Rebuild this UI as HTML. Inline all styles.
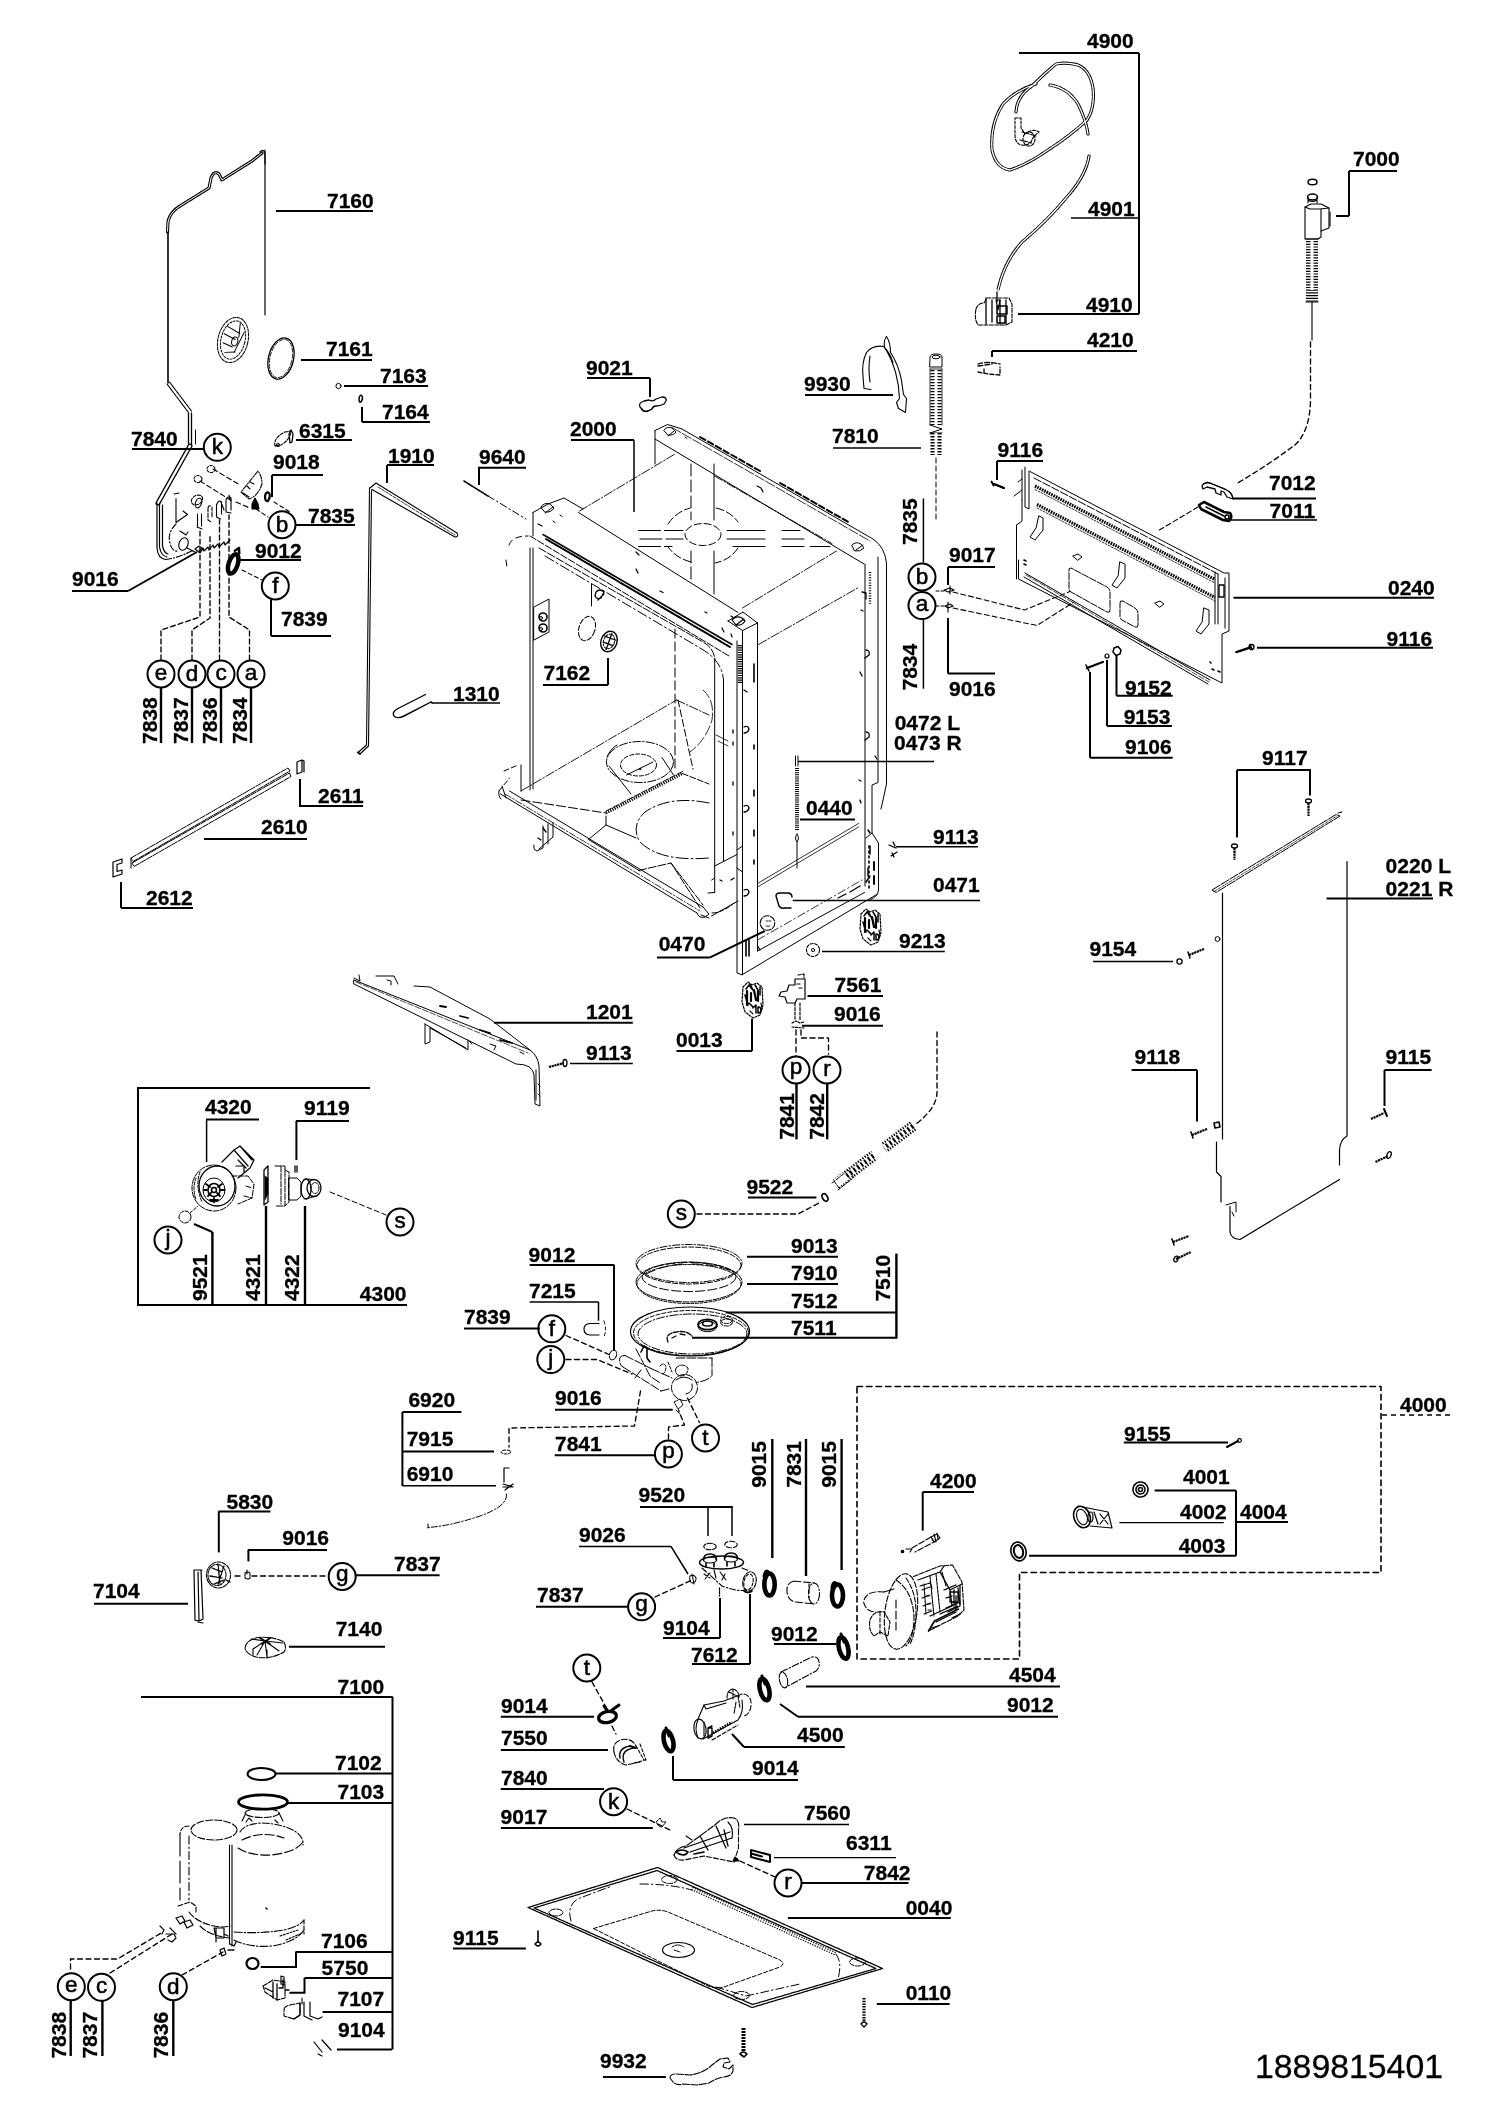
<!DOCTYPE html>
<html><head><meta charset="utf-8"><title>1889815401</title>
<style>
html,body{margin:0;padding:0;background:#fff}
svg{display:block;will-change:transform}
svg text{font-family:"Liberation Sans",sans-serif;font-weight:bold;fill:#000;stroke:#000;stroke-width:0.3px}
svg text.cl{font-weight:normal;stroke-width:0.55px}
svg text.rg{font-weight:normal}
svg line,svg polyline,svg polygon,svg path,svg ellipse,svg circle,svg rect{stroke:#000;fill:none}
</style></head><body>
<svg width="1500" height="2119" viewBox="0 0 1500 2119">
<rect x="0" y="0" width="1500" height="2119" style="fill:#fff;stroke:none"/>
<g id="parts" stroke-linecap="round" stroke-linejoin="round">
<!-- ===== 7160 housing outline (top-left) ===== -->
<g stroke-width="1.2">
<path d="M265 150V315"/>
<path d="M260 152q4-4 5 2l0 10" />
<path d="M262 153L252 161L228 176L222 180L219 174Q214 170 211 178L209 188L180 206Q170 212 168 222L167.500 232" stroke-width="3.2" stroke-dasharray="1.5 1.2"/>
<path d="M262 153L252 161L228 176L222 180L219 174Q214 170 211 178L209 188L180 206Q170 212 168 222L167.500 232" stroke="#fff" style="stroke:#fff" stroke-width="1"/>
<path d="M168 232V383" stroke-width="1.6"/>
<path d="M167 384L188.500 412.500M169.500 382L191.500 411" stroke-width="1.100" stroke-dasharray="3 1"/>
<path d="M188.500 413V444M191.500 413V444" stroke-width="1.300"/>
<path d="M195.500 430V444" stroke-width="1"/>
<path d="M190 446L158 503" stroke-width="5" stroke-dasharray="1.2 1.6"/>
<path d="M190 446L158 503" style="stroke:#fff" stroke-width="2.4"/>
<path d="M157 503V548Q158 559 166 559.500M159.500 503V547Q161 556 167 557M162.500 505V546Q164 553 168 554"/>
<path d="M166 559.500Q178 558 194 550" stroke-dasharray="6 2 1 2"/>
</g>
<!-- fan in 7160 -->
<g stroke-width="1" transform="rotate(14 233 340)">
<ellipse cx="233" cy="340" rx="15" ry="23" stroke-dasharray="3 1.2"/>
<ellipse cx="233" cy="340" rx="12" ry="19.500" stroke-dasharray="2 1.5"/>
<ellipse cx="235" cy="341" rx="3" ry="4.500"/>
<path d="M224 328l14 4M223 336l12 3M224 345l10 2M228 354l10-3M236 322l2 14M242 330l-5 22"/>
</g>
<!-- 7161 o-ring -->
<ellipse cx="281" cy="358.500" rx="12.500" ry="21" transform="rotate(14 281 358.500)" stroke-width="1.300"/>
<ellipse cx="281" cy="358.500" rx="11" ry="19.500" transform="rotate(14 281 358.500)" stroke-width="0.800" stroke-dasharray="4 2"/>
<!-- 7163, 7164 small -->
<circle cx="338.500" cy="386" r="2.600" stroke-width="1"/>
<path d="M359.500 402q-1.500-5 1.500-7q3 2 0 7z" stroke-width="1.500"/>
<!-- 6315 -->
<g stroke-width="1.100">
<path d="M275 446q-2-8 10-14l6-1q-1 9-10 14z" stroke-dasharray="3 1.500"/>
<path d="M289 434l2-4l2 4l-1 8l-2 1z" stroke-width="1.300"/>
<circle cx="278" cy="445" r="1.500"/>
</g>
<!-- ===== 7840 mechanism ===== -->
<g stroke-width="1.100">
<path d="M174 494l5-1M176 498.500V522.500L187.500 514.500L183 511" />
<path d="M176 524Q167 533 170 543Q172 552 178 551" stroke-dasharray="6 2 1.500 2"/>
<ellipse cx="183.500" cy="544" rx="4.500" ry="6.500" transform="rotate(20 183.500 544)"/>
<path d="M180 531l6 4l2-3M187 548l8 4" />
<ellipse cx="197" cy="500" rx="6" ry="4.500" transform="rotate(-30 197 500)" stroke-dasharray="3 1.500"/>
<ellipse cx="198.500" cy="503" rx="3" ry="5" transform="rotate(20 198.500 503)"/>
<ellipse cx="198" cy="479" rx="4" ry="3.500" stroke-dasharray="2.500 1.500"/>
<ellipse cx="211" cy="469" rx="4" ry="3.500" stroke-dasharray="2.500 1.500"/>
<path d="M197.500 514v12M201.500 514v12M197 527l5 2" />
<path d="M208 508q1-4 4-1v10M208 508v12l3 2" stroke-dasharray="4 1.500"/>
<path d="M216.500 505q2-6 5-3v12M216.500 505v12l4 2M221 502l3 8"/>
<path d="M226 500q2-5 5-2v12M226 500v12l5 1M229 495l1 5"/>
<path d="M199 551l4-3l1 3l4-4l1 3l4-5l1 3l4-4l1 3l5-5l1 3l5-5" stroke-width="1.200"/>
<path d="M195 549l5 4l3-4l-4-3z"/>
<path d="M213 469L240 485M200 481L232 501M236 502L250 508" stroke-dasharray="5 3"/>
<path d="M256 509L268 517M274 502L290 512" stroke-dasharray="4 3"/>
<path d="M258 471L241 492L249 499Q258 496 262 484Q262 476 258 471z" stroke-dasharray="5 1.500 1 1.500"/>
<path d="M247 486l3 3M250 482l4 2M243 493l6 4" />
<path d="M252 504l3-6l3 6l1 5h-7z" style="fill:#000"/>
<path d="M265 496q1-5 4-3q2 3-1 8q-3 1-3-5z" stroke-width="2.200"/>
</g>
<!-- 9012 clamp (left) -->
<g transform="rotate(18 233.500 563)"><ellipse cx="233.500" cy="564" rx="4.500" ry="10" stroke-width="4.500"/><path d="M231 551l3-4l2 5" stroke-width="2.500"/></g>
<path d="M242 570L262 580" stroke-width="1.100" stroke-dasharray="4 3"/>
<!-- dashed leaders to e d c a -->
<g stroke-width="1.350" stroke-dasharray="5 3">
<path d="M161 660V630L200 617V530"/>
<path d="M192 660V630L210 618V535"/>
<path d="M219.500 660V520"/>
<path d="M249.500 660V630L229 617V515"/>
</g>
<!-- 1910 rod -->
<g stroke-width="1.100">
<path d="M370 488L376 483L457 533Q459 537 455 537L372 489.500"/>
<path d="M378 487L455 535" stroke-dasharray="3 1.500" stroke-width="0.800"/>
<path d="M369.500 488L366.500 745L358 752.500M371.500 490L368.500 746L360 754" />
<path d="M358 752.500l2 1.500" stroke-width="2"/>
</g>
<!-- 9640 rod -->
<path d="M464 481L488 496" stroke-width="1.600" stroke-dasharray="3 1"/>
<path d="M488 496L526 519" stroke-width="1" stroke-dasharray="7 3 1.500 3"/>
<!-- 1310 -->
<path d="M425.500 694.500L397 709Q391 713 394.500 716.500Q398 719 404 716L431 702" stroke-width="1.400"/>
<path d="M431 702L432 703" stroke-width="1.400"/>
<!-- 2610 rail -->
<g stroke-width="1">
<path d="M131 858L288 768L290 771L133 861.500zM132 863L289.500 773L291 776.500L134 866.500z" stroke-dasharray="6 1.200"/>
<path d="M131 858V868" />
<path d="M297 762l5-2v12l-5 2zM302 760l2 1v11" stroke-width="1.200"/>
<path d="M113 862l9-3v4l-5 1.500v7l5-1.500v4l-9 3z" stroke-width="1.200"/>
</g>
<!-- ===== 9021 bowtie ===== -->
<path d="M640 407q-2-4 4-6l5-1q4 2 7-1l6-2q5 0 4 4l-2 3q-4 2-8 2q-3 0-4 3l-4 2q-5 1-6-2z" stroke-width="1.300"/>
<path d="M641 409q2 4 7 2l4-2" stroke-width="1"/>
<!-- ===== 9930 hook ===== -->
<g stroke-width="1.100">
<path d="M886.500 336.500q-3 4-2 10q-12-2-18 6q-5 10-3.500 24l1 12l7 1"/>
<path d="M886.500 336.500q4 6 4 16q8 12 11 28l2 14l3 4l-1 14l-7-4l-2-6l3-4q-1-28-14-50"/>
<path d="M884 347q6 6 9 16M870 356q-2 12 0 26" />
</g>
<!-- ===== 7810 hose ===== -->
<g stroke-width="1">
<path d="M930 357q0-3 6-3q6 0 6 3v10h-12z"/>
<ellipse cx="936" cy="357" rx="4" ry="1.800"/>
<path d="M930 369h12M930 369v56M942 369v56" stroke-width="0.800"/>
<path d="M936 370V425" stroke-width="11" stroke-dasharray="1.300 1.700" stroke-linecap="butt"/>
<path d="M936 370V425" style="stroke:#fff" stroke-width="3" stroke-linecap="butt"/>
<path d="M930 425l12 4l-12 4M930 433h12"/>
<path d="M936 433V455" stroke-width="11" stroke-dasharray="1.600 1.400" stroke-linecap="butt"/>
<path d="M936 433V455" style="stroke:#fff" stroke-width="3" stroke-linecap="butt"/>
<path d="M936 458V521" stroke-dasharray="5 3"/>
</g>
<!-- ===== 4901 cable ===== -->
<g stroke-width="3.200" stroke-dasharray="3 1.600">
<path id="cab1" d="M1016 112Q1017 96 1032 86Q1044 74 1056 64Q1066 62 1078 65Q1090 70 1093 88Q1095 108 1087 120Q1070 136 1048 150Q1028 164 1010 170Q996 168 992 150Q990 124 1003 104Q1016 90 1036 84"/>
<path id="cab2" d="M1050 85Q1068 88 1078 104Q1086 120 1088 134M1089 156Q1086 176 1066 198Q1048 220 1022 242Q1004 262 998 290"/>
</g>
<g stroke-width="1.300" style="stroke:#fff">
<path d="M1016 112Q1017 96 1032 86Q1044 74 1056 64Q1066 62 1078 65Q1090 70 1093 88Q1095 108 1087 120Q1070 136 1048 150Q1028 164 1010 170Q996 168 992 150Q990 124 1003 104Q1016 90 1036 84" style="stroke:#fff"/>
<path d="M1050 85Q1068 88 1078 104Q1086 120 1088 134M1089 156Q1086 176 1066 198Q1048 220 1022 242Q1004 262 998 290" style="stroke:#fff"/>
</g>
<!-- plug -->
<g stroke-width="1.100" stroke-dasharray="3 1.500">
<path d="M1015 118h6v10l4 6q8-6 14-2q-6 4-8 10q-4 4-10 3q-6-2-6-10z"/>
<ellipse cx="1029" cy="139" rx="6" ry="7"/>
<path d="M1022 132l14 4M1020 140l12 3"/>
</g>
<!-- 4910 connector -->
<g stroke-width="1.100">
<path d="M976 309q2-6 8-6l3-5h22l3 6v18l-6 3h-28q-4-6-2-16z" stroke-dasharray="4 1.500"/>
<path d="M986 298v26M992 300v22M997 292v10M1000 300v24M1006 300v24" stroke-width="1.300"/>
<path d="M997 306h10v8h-10zM997 316h8v7h-8z" stroke-width="1.500"/>
<path d="M996 300l2 10l2-10z" stroke-width="1.200"/>
</g>
<!-- 4210 -->
<g stroke-width="1.300">
<path d="M978 364q8-3 22 0M978 366l14-2" stroke-dasharray="5 2"/>
<path d="M978 372l10 2l12 1v-8M984 373v-6" stroke-dasharray="4 2"/>
</g>
<!-- ===== 7000 aquastop ===== -->
<g stroke-width="1.100">
<ellipse cx="1312.500" cy="182" rx="4.500" ry="2.800" stroke-width="1.500"/>
<ellipse cx="1312.500" cy="197" rx="5" ry="3" stroke-width="1.500"/>
<path d="M1308 197v6M1317 197v6M1308 200q4 3 9 0"/>
<path d="M1305 207l6-3h10l8 4v20l-8 3v6l-3 2h-13z"/>
<path d="M1305 207l5 2h10l9-1M1321 209v22M1330 212v14"/>
<path d="M1306 239h12M1306 302h12"/>
<path d="M1312 241V302" stroke-width="12" stroke-dasharray="1.200 1.500" stroke-linecap="butt"/>
<path d="M1312 241V290" style="stroke:#fff" stroke-width="3" stroke-linecap="butt"/>
<path d="M1312 302V340"/>
<path d="M1310.500 342V400Q1310 430 1296 444Q1270 464 1236 484" stroke-dasharray="5 3.500" stroke-width="1.350"/>
</g>
<!-- ===== 7012 / 7011 clips ===== -->
<g stroke-width="1.300">
<path d="M1202 486q2-4 8-3l14 6q6 2 8 6l1 4l-6-2l-3-5l-3-1v4l-5-2l-1-4l-8-2l-4 2z"/>
<path d="M1203 484l4-2l16 6q8 3 10 10" stroke-width="1"/>
</g>
<g stroke-width="2.600">
<path d="M1199 505l5-3l20 10l6 1q3 4-1 8l-6-1l-22-11z"/>
<path d="M1206 507l18 9" stroke-width="1.500"/>
<circle cx="1227" cy="517" r="2" stroke-width="1.500"/>
</g>
<path d="M1198 507L1157 531.500" stroke-width="1.100" stroke-dasharray="5 3"/>
<!-- ===== 0240 back panel ===== -->
<g stroke-width="1">
<path d="M1030 471.500L1224 573L1229 573V631L1222 634V683L1018.500 579V560"/>
<path d="M1016.500 525V579M1016.500 525L1022 521V500"/>
<path d="M1025 467v40l4 2v-38M1022 470v30" />
<path d="M1018 482l4-3M1014 496l8-6" />
<path d="M1034 478L1218 574" stroke-dasharray="8 2"/>
<path d="M1035 486L1215 579.500" stroke-width="3.200" stroke-dasharray="1.600 1" stroke-linecap="butt"/>
<path d="M1035 489.500L1215 583" stroke-width="0.800" stroke-dasharray="2 1.500"/>
<path d="M1037 504.500L1215 597.500" stroke-width="3.200" stroke-dasharray="1.600 1" stroke-linecap="butt"/>
<path d="M1037 508L1215 601" stroke-width="0.800" stroke-dasharray="2 1.500"/>
<path d="M1215 572v52M1218 574v50M1225 578v50"/>
<path d="M1219 585h5v12h-5z" stroke-width="1.300"/>
<path d="M1025 573L1210 680M1024 577L1208 684" />
<path d="M1026 575L1209 682" stroke-dasharray="6 2" stroke-width="0.700"/>
<path d="M1212 669l2 1M1218 671l2 1M1210 662l1 1" stroke-width="1.600"/>
<!-- cutouts -->
<path d="M1069 571q-1-3 2-3l36 19q3 2 3 5v18q0 3-3 2l-36-20q-2-1-2-4z" stroke-dasharray="7 1.500"/>
<path d="M1120 603q0-3 3-2l12 7q3 2 3 5v12q0 3-3 2l-13-7q-2-1-2-4z" stroke-dasharray="7 1.500"/>
<path d="M1073 556l5-2l4 3l-4 3zM1155 603l5-2l4 3l-4 3z"/>
<!-- hooks -->
<path d="M1039 516l4 2v12l-8 10l-5-3l6-9z"/>
<path d="M1120 562l5 2v14l-8 10l-5-3l6-9z"/>
<path d="M1204 608l5 2v14l-8 10l-5-3l6-9z"/>
<path d="M1024 560l2 1M1024 564l2 1" stroke-width="1.600"/>
</g>
<!-- screws 9116 -->
<g stroke-width="1.300">
<path d="M991.500 481.500l2 4M992.500 483.500L1004 488" stroke-width="1.800"/>
<path d="M994 484L1004 488" stroke-width="2.200" stroke-dasharray="2.200 0.600"/>
<path d="M1250 644.500l2 5M1236 652L1251 647" stroke-width="1.800"/>
<path d="M1237 652L1249 648" stroke-width="2.200" stroke-dasharray="2.200 0.600"/>
<circle cx="1251.500" cy="647" r="2.500"/>
</g>
<!-- 9106 screw, 9153, 9152 -->
<g stroke-width="1.200">
<path d="M1087 668L1103 662" stroke-width="2.200" stroke-dasharray="2.200 0.600"/>
<path d="M1086 665l3 6" stroke-width="1.600"/>
<circle cx="1107" cy="656" r="2"/>
<path d="M1114 648l4-1.500l3 3.500l-1 4l-4 1.500l-3-3.500z" stroke-width="1.500"/>
</g>
<!-- 9017/9016 right small -->
<g stroke-width="1.100">
<path d="M944 590l6-2l4 2l-6 2zM950 586v8M945 606l5-2l3 2l-5 2zM948 602v10" />
<path d="M953 592L1024.500 610L1070 591.500" stroke-dasharray="5 3"/>
<path d="M953 608L1037 625.500L1074 602" stroke-dasharray="5 3"/>
<path d="M936 591h8M936 606h8" stroke-dasharray="3 2"/>
</g>
<!-- ===== TUB 2000 ===== -->
<g stroke-width="1">
<!-- back bar -->
<path d="M655 430.500V464M655 430.500L667.500 424.500L682 429L873 539Q885 547 886.500 563"/>
<path d="M655 439L864 564" />
<path d="M672 427.500L870 541" stroke-dasharray="10 2" stroke-width="0.800"/>
<path d="M700 437L760 471M780 483L850 523" stroke-width="2" stroke-dasharray="6 3"/>
<path d="M664 430q3-4 8-2l4 4q-3 4-8 3zM668 436l6-5M685 437l2 1.500"/>
<path d="M852 545q4-4 9-1l3 4q-4 4-9 3zM856 550l7-5"/>
<!-- dash-dot top edges -->
<g stroke-dasharray="9 2 1.500 2" stroke-width="0.900">
<path d="M579.500 511L675 454"/>
<path d="M714.500 476L832 543.500"/>
<path d="M742.500 608L836.500 551"/>
<path d="M758.500 644.500L858.500 587.500"/>
</g>
<!-- front bar -->
<path d="M578.500 512.500L738 612.500"/>
<path d="M533 512.500V536M533 512.500L548 504L564 498L583 509"/>
<path d="M541 507q3-5 9-3l4 4q-3 5-9 4zM545 513l8-6M560 515l2 1.500M553 521l2 1.500"/>
<path d="M543 534.500L732 644.500" stroke-width="1.500"/>
<path d="M546 539L730 647" stroke-width="2" stroke-dasharray="5 1.500 1.500 1.500"/>
<path d="M530 536L729 656" stroke-dasharray="7 2"/>
<path d="M539 548L703 642Q714 648 715 660" stroke-dasharray="8 2"/>
<path d="M545 556L700 648Q722 660 723.500 680" stroke-dasharray="10 3 2 3"/>
<path d="M538 524l4 2M636 569l2 4M660 591l3 1.500M705 612l2 1" stroke-width="1.300"/>
<!-- front right post top block -->
<path d="M728 621L743 612L757.500 623M728 621L742.500 630.500L757.500 623M742.500 630.500V642"/>
<path d="M732 620q4-5 10-2l3 3q-3 5-9 4zM736 625l8-6M731 616l3 2M722 628l2 4M731 634l1 3" stroke-width="1.200"/>
<!-- front right post -->
<path d="M737 641V973L742.500 975V641M757.500 623V951"/>
<path d="M740 645V683" stroke-width="4.500" stroke-dasharray="1.200 1.100" stroke-linecap="butt"/>
<path d="M754 664v18M754 745v4M754 790v6M754 830v6M754 860v4" stroke-width="1.600"/>
<path d="M744 727q4-2 5 2q-1 4-5 4M744 806q4-2 5 2q-1 4-5 4M744 890q4-2 5 2q-1 4-5 4M744 690l3 2" stroke-width="1.300"/>
<path d="M733 730v3M733 742v3M733 782v3M733 832v3" stroke-width="1.300"/>
<path d="M746 940v16M749 940v16" stroke-width="1.600"/>
<path d="M737 850L742.500 846M737 868L742.500 872" />
<!-- right rear post -->
<path d="M865 564V886M878 557V782.500L872 785V833L878.500 843V890Q878 897 870 899.500M886.500 563V784L881 809"/>
<path d="M872 833L866 838" />
<path d="M869 846V888" stroke-dasharray="2 3" stroke-width="1.600"/><path d="M874 862v8M874 876v8" stroke-width="2"/>
<path d="M870 572V604" stroke-width="2.500" stroke-dasharray="1 1.600" stroke-linecap="butt"/>
<path d="M862 592l4 1v6M861 610l2 1M866 650q4 0 3 5l-4 3M866 732q4 0 3 5l-4 3M860 672l2 4M859 780l2 1M860 800l1 3M875 756l2 3" stroke-width="1.300"/>
<path d="M868 830l2 3M870 846v8M868 868v8M866 882l4-6" stroke-width="1.500"/>

<!-- right side bottom -->
<path d="M742.500 974.500L877.500 894M757.500 951L864.500 892.500"/>
<path d="M757.500 883.500L858.500 823.500M757.500 887L858.500 827" stroke-width="0.800"/>
<path d="M757.500 940L862 880" stroke-dasharray="8 3 1.500 3" stroke-width="0.800"/>
<path d="M757.500 946L760 950M838 898l8-4M850 892l10-6" stroke-width="1.300"/>
<!-- left side -->
<path d="M530 548V790M533 548V789" />
<path d="M521 765V791" />
<path d="M509 545Q512 536 528 536M506 560l1 8" stroke-dasharray="6 4"/>
<path d="M504 771l14-6M499 791L509.500 778" stroke-dasharray="5 3"/>
<path d="M499 791q-1 5 2 8M502 786l4 12" />
<!-- bottom front edge -->
<path d="M500.500 794L697 913M509.500 791L703 907" />
<path d="M505 794L700 911" stroke-dasharray="7 2 1.500 2" stroke-width="0.800"/>
<path d="M697 913q2 6 8 4l4-3l-6-7M701 915l8 3M711.500 916L738 901" />
<path d="M712 913q10 0 22-10" stroke-dasharray="5 2"/>
<!-- feet -->
<path d="M543 826v22l-6 3q-4-1-3-6M548 824v20M553 823v14l-14 12" />
<path d="M543 828l3 4M538 838l3 2" stroke-width="1.300"/>
<!-- floor -->
<path d="M521 791L676.500 700" stroke-dasharray="9 2 1.500 2" stroke-width="0.900"/>
<path d="M676.500 700L709 715" stroke-dasharray="9 2 1.500 2" stroke-width="0.900"/>
<path d="M675 629V769" stroke-dasharray="9 4"/>
<path d="M678 700L693 769" stroke-dasharray="7 3"/>
<path d="M521 800L606 813" stroke-dasharray="9 3"/>
<path d="M606 813L682.500 773.500" stroke-width="3" stroke-dasharray="1.200 1.200" stroke-linecap="butt"/>
<path d="M606 811L682.500 771.500M682.500 773.500L709 784" stroke-dasharray="6 2"/>
<path d="M606 816V825L588.500 839.500M606 825L636 838" />
<path d="M638.500 870.500L671 863L700 908M671 863L703 905" stroke-dasharray="8 2"/>
<path d="M588.500 839.500L640 871" />
<!-- sump -->
<ellipse cx="640" cy="762" rx="33.500" ry="20.500" stroke-dasharray="8 2 1.500 2"/>
<ellipse cx="638.500" cy="765" rx="18" ry="11" stroke-dasharray="4 2"/>
<path d="M626.500 775L653 762" /><circle cx="640" cy="769" r="0.800"/>
<path d="M609 766L631 794M662 757.500L673.500 775" />
<path d="M607 757q3-8 10-12" />
<!-- big ellipse -->
<path d="M709 803Q670 795 645 812Q630 826 640 842Q660 862 709 858" stroke-dasharray="12 3 2 3"/>
<!-- door opening right side -->
<path d="M714.700 660V892.500M723.500 680V861.500" />
<path d="M714.700 866L737 854.500M714.700 892.500L708 893M714.700 878l-3 2" />
<path d="M720 880l2 1M731 880l3-2" stroke-width="1.300"/>
<!-- interior right wall curves -->
<path d="M703 690Q715 700 712 720Q706 740 690 752" stroke-dasharray="10 3" stroke-width="0.800"/>
<path d="M716 735l12 6M718 741l10 5" stroke-width="0.800"/>
<!-- left inner components -->
<path d="M534 607L549 599V632L534 640z" />
<circle cx="543" cy="617" r="4" stroke-width="1.600"/><circle cx="543" cy="628" r="4" stroke-width="1.600"/>
<circle cx="541" cy="618" r="1.500"/><circle cx="541" cy="629" r="1.500"/>
<ellipse cx="587" cy="628.500" rx="8" ry="12.500" transform="rotate(18 587 628.500)" stroke-dasharray="5 2"/>
<path d="M591.500 584.500V606" /><path d="M596 592q4-4 8 0l-3 6q-4 2-6-2zM598 600l6-6" stroke-width="1.300"/>
<!-- 7162 fan -->
<g transform="rotate(20 609 641.500)"><ellipse cx="609" cy="641.500" rx="8" ry="10.500" stroke-width="1.400"/><ellipse cx="609" cy="641.500" rx="5.500" ry="7.500" stroke-dasharray="2 1.500"/><path d="M603 638h12M604 644h10M609 633v17" stroke-width="1.300"/></g>
<!-- top cross -->
<ellipse cx="703" cy="534.500" rx="18" ry="11" stroke-dasharray="7 3"/>
<path d="M668 524Q676 512 690 508M716 508Q730 511 738 522M738 548Q730 560 715 563M691 562Q676 558 668 547" stroke-dasharray="8 3"/>
<path d="M638.500 530.500H683M640 539H683M638.500 546.500H672" stroke-dasharray="22 4"/>
<path d="M727 530.500H765M727 539H765M733 546.500H765" />
<path d="M782 530.500H800M782 539H806M782 546.500H830" stroke-dasharray="22 6"/>
<path d="M691 464V520" stroke-dasharray="12 4"/>
<path d="M714 464V520M714 551V594" />
<path d="M691 551V580" stroke-dasharray="12 4"/>
<path d="M757 486l4 2l2 4M636 552l3 3" stroke-width="1.200"/>
</g>
<!-- 0440 spring -->
<g stroke-width="1">
<path d="M795.500 756v10M798 756v10"/>
<path d="M797 768V831" stroke-width="4" stroke-dasharray="1 1.100" stroke-linecap="butt"/>
<path d="M797 834q-3 4 0 8q3-4 0-8M797 842V868" />
</g>
<!-- 0470 / 0471 / 9213 -->
<g stroke-width="1.100">
<circle cx="767.500" cy="923" r="7.300" stroke-dasharray="6 1.500"/>
<path d="M766 921h2M769 921h2M766 926q2 1 4 0" stroke-width="0.800"/>
<path d="M776 896q0-3 4-3h9q3 1 3 4M776 896l3 10q2 3 6 2h6" stroke-width="1.400"/>
<circle cx="813" cy="950" r="6.500" stroke-dasharray="3 1.500"/><circle cx="813" cy="950" r="1.500" stroke-dasharray="1 1"/>
</g>
<!-- 9213 foot / 0013 -->
<g transform="translate(859,908)" stroke-width="1.200">
<path d="M2 6l5-5l4 3l5-2l5 4l1 18l-3 10l-7 3l-8-6l-3-10z" stroke-dasharray="2 1.500"/>
<path d="M5 8l3-4l3 4M9 3l4 8M14 4l3 5M19 6v8" stroke-width="1.500"/>
<path d="M6 10v14M10 12v8M13 9l2 10M17 10v10" stroke-width="2.200"/>
<path d="M4 14l3 10M8 22l4 4" stroke-width="1.600"/>
<path d="M12 27l3-3v8M17 26q3 0 3 3t-3 3z" stroke-width="1.500"/>
<path d="M9 30l3 3M20 22l1 6" stroke-dasharray="1.500 1"/>
</g>
<g transform="translate(741,981)" stroke-width="1.200">
<path d="M2 6l5-5l4 3l5-2l5 4l1 18l-3 10l-7 3l-8-6l-3-10z" stroke-dasharray="2 1.500"/>
<path d="M5 8l3-4l3 4M9 3l4 8M14 4l3 5M19 6v8" stroke-width="1.500"/>
<path d="M6 10v14M10 12v8M13 9l2 10M17 10v10" stroke-width="2.200"/>
<path d="M4 14l3 10M8 22l4 4" stroke-width="1.600"/>
<path d="M12 27l3-3v8M17 26q3 0 3 3t-3 3z" stroke-width="1.500"/>
<path d="M9 30l3 3M20 22l1 6" stroke-dasharray="1.500 1"/>
</g>
<!-- 9113 right arrows -->
<path d="M889 845l7 3M891 856l6-4M893 842l2 4M892 853l2 4" stroke-width="1.300"/>
<!-- ===== side panel 0220 ===== -->
<g stroke-width="1">
<path d="M1212 890L1336 814.500L1340 816L1216 892.500z" stroke-dasharray="9 1.500"/>
<path d="M1214 891.500L1337 816" stroke-dasharray="3 1.500" stroke-width="0.700"/>
<path d="M1338 813l4-1" />
<path d="M1222.500 893V1139M1216.500 1142V1172L1221 1176.500V1202M1230 1206.500V1232Q1231 1239 1240 1239.500L1339.500 1179.500" stroke-width="1.200"/>
<path d="M1347 861.500V1136Q1340 1140 1339.500 1150V1165" stroke-width="1.200"/>
<path d="M1226 1205l10-3v10M1232 1212l2 4" />
<circle cx="1217.500" cy="939" r="2.400"/>
</g>
<!-- screws right region -->
<g stroke-width="1.300">
<path d="M1234.500 848V860" stroke-width="2.200" stroke-dasharray="2.200 0.600" stroke-linecap="butt"/><ellipse cx="1234.500" cy="846" rx="3" ry="2"/>
<path d="M1308.500 803V816" stroke-width="2.200" stroke-dasharray="2.200 0.600" stroke-linecap="butt"/><ellipse cx="1308.500" cy="801" rx="3" ry="2"/>
<circle cx="1179.500" cy="961.500" r="2.600"/>
<path d="M1189 955L1204 949" stroke-width="2.200" stroke-dasharray="2.200 0.600" stroke-linecap="butt"/><path d="M1188 952l2 6" stroke-width="1.500"/>
<path d="M1192 1135L1207 1129" stroke-width="2.200" stroke-dasharray="2.200 0.600" stroke-linecap="butt"/><path d="M1191 1132l2 6" stroke-width="1.500"/>
<path d="M1214 1123l5-1l1 5l-5 1z" stroke-width="1.600"/>
<path d="M1371 1119L1384 1113" stroke-width="2.200" stroke-dasharray="2.200 0.600" stroke-linecap="butt"/><path d="M1384 1109l3 7" stroke-width="2"/>
<path d="M1375.500 1162L1388 1156" stroke-width="2.200" stroke-dasharray="2.200 0.600" stroke-linecap="butt"/><ellipse cx="1389" cy="1155" rx="2" ry="3.500" transform="rotate(20 1389 1155)"/>
<path d="M1173 1242L1189 1236" stroke-width="2.200" stroke-dasharray="2.200 0.600" stroke-linecap="butt"/><path d="M1172 1239l2 6" stroke-width="1.500"/>
<path d="M1176 1259L1191 1252" stroke-width="2.200" stroke-dasharray="2.200 0.600" stroke-linecap="butt"/><ellipse cx="1176" cy="1259" rx="2" ry="3" transform="rotate(20 1176 1259)"/>
</g>
<!-- ===== 1201 strip ===== -->
<g stroke-width="1">
<path d="M354 980L530 1050Q538 1056 539 1066L540 1106L535 1104L534 1075Q533 1064 516 1064L354 984z"/>
<path d="M356 982L528 1053" stroke-dasharray="6 2" stroke-width="0.700"/>
<path d="M376 976h18l4 8M414 986l16 1l60 32l40 31" />
<path d="M354 978l6 3l-1-6M387 980l4 1v4" />
<path d="M425 1024V1044L430 1042V1028M425 1024L468 1050V1040M430 1028L466 1048M468 1040L472 1044" />
<path d="M440 1006l6 1M460 1016l8 2M480 1030l10 3M500 1040l12 3" stroke-width="1.800"/>
<path d="M490 1044l6 2l-2 4M520 1052l4 2M536 1070v30M538 1084l2 2M538 1094l2 2" />
</g>
<path d="M549 1067L564 1063" stroke-width="2.200" stroke-dasharray="2.200 0.600" stroke-linecap="butt"/><ellipse cx="565" cy="1063" rx="2" ry="3.500" stroke-width="1.300"/>
<!-- ===== 4300 motor group ===== -->
<g stroke-width="1">
<ellipse cx="214" cy="1188" rx="22" ry="23" stroke-dasharray="6 1.500"/>
<ellipse cx="217" cy="1186" rx="18" ry="20" stroke-width="1.300"/>
<ellipse cx="214" cy="1190" rx="11" ry="12" />
<ellipse cx="214" cy="1190" rx="6" ry="6.500" stroke-width="1.600"/>
<circle cx="214" cy="1190" r="2.500" stroke-width="1.600"/><path d="M206 1184l4 3M222 1184l-4 3M214 1198v4M208 1196l3-3M220 1196l-3-3M204 1190h3M221 1190h3M210 1200h8" stroke-width="1.800"/>
<path d="M196 1178q-4 10 0 22M200 1172q-5 14 2 30" stroke-dasharray="3 1.500"/>
<path d="M222 1162l12-12l6-4l14 14l-4 8l-12 10M234 1150l14 16M240 1146l12 14M238 1160l8 8M236 1166h8v6" stroke-width="1.200"/>
<path d="M232 1176l16 0l6 8l-2 14l-14 6M246 1186l6 2M244 1196l8 2" stroke-dasharray="5 1.500"/>
<circle cx="185" cy="1217" r="6" stroke-dasharray="4 1.500"/>
<path d="M190 1213L198 1206" stroke-dasharray="3 2"/>
<!-- 4321/4322 -->
<path d="M264 1170l4-4v36l-4 3z" stroke-width="1.300"/><path d="M265 1176l3 2v16l-3 6z" style="fill:#000" stroke-width="0.500"/>
<path d="M275 1166h10v40h-10M281 1166v38M285 1170l4 2v30l-4 4" stroke-dasharray="6 1.500"/>
<path d="M289 1178h8l4 4v14l-4 4h-8z" />
<path d="M295 1166v6M297 1166v6" stroke-width="1.300"/>
<ellipse cx="306" cy="1189" rx="5" ry="10" stroke-width="1.300"/>
<ellipse cx="314" cy="1188" rx="7" ry="8.500" stroke-width="1.300"/>
<ellipse cx="315" cy="1188" rx="4" ry="5.500" stroke-dasharray="3 1.500"/>
<path d="M306 1179l8 0.500M306 1199l8-2.500" />
<path d="M330 1192L386 1215" stroke-dasharray="5 3"/>
</g>
<!-- 7561 -->
<g stroke-width="1.200">
<path d="M795 979h10v20h-8l-2 4h-8l-2-6l-6-1l2-4l6-1l2-6h6z"/>
<path d="M798 975l6-1v4M797 984h4M799 988h3M795 1003v16M800 1003v18" stroke-dasharray="3 1.500"/>
<path d="M792 1023l4-2l4 2l4-1M792 1027l12 1" stroke-dasharray="2 1.500"/>
</g>
<g stroke-dasharray="5 3.500" stroke-width="1.350">
<path d="M796 1030V1056M801 1030V1038H828.500V1054"/>
<path d="M937 1032V1092Q937 1108 916 1124"/>
</g>
<!-- 9522 hose -->
<g stroke-width="1">
<path d="M913 1126L836 1184" stroke-width="11" stroke-dasharray="1.300 1.500" stroke-linecap="butt"/>
<path d="M913 1126L836 1184" style="stroke:#fff" stroke-width="6" stroke-linecap="butt"/>
<path d="M913 1126L836 1184" stroke-width="5" stroke-dasharray="2 2.500" stroke-linecap="butt"/>
<path d="M884 1148L874 1155" style="stroke:#fff" stroke-width="12" stroke-linecap="butt"/>
<path d="M846 1176L834 1185" style="stroke:#fff" stroke-width="9" stroke-linecap="butt"/>
<path d="M848 1170l6 8M834 1181l5 7M832 1183l14-11M838 1190l14-11" stroke-dasharray="4 1.500"/>
<ellipse cx="825" cy="1197.500" rx="2.500" ry="4" transform="rotate(-30 825 1197.500)" stroke-width="1.600"/>
<path d="M697 1214H798L819 1203" stroke-dasharray="5 3.500" stroke-width="1.350"/>
</g>
<!-- ===== rings 9013 / 7910 ===== -->
<g stroke-width="1">
<ellipse cx="689" cy="1263.500" rx="53" ry="19" stroke-dasharray="7 2 1.500 2"/>
<ellipse cx="689" cy="1265.500" rx="52" ry="18.500" stroke-dasharray="5 2"/>
<ellipse cx="689" cy="1282" rx="53" ry="20" stroke-dasharray="6 1.500"/>
<ellipse cx="689" cy="1284" rx="52" ry="19.500" stroke-dasharray="3 1.500"/>
<ellipse cx="689" cy="1277" rx="47" ry="14.500" stroke-dasharray="9 3"/>
<path d="M646 1274q20-10 40-10M692 1264q24 0 42 8" stroke-dasharray="10 4"/>
<!-- sump 7512/7511 -->
<ellipse cx="690" cy="1331.500" rx="59.500" ry="24.500" stroke-width="1.200"/>
<ellipse cx="692.500" cy="1334" rx="54.500" ry="20" stroke-dasharray="8 2 1.500 2"/>
<ellipse cx="691" cy="1333" rx="57.500" ry="22.500" stroke-dasharray="4 2"/>
<ellipse cx="707.500" cy="1324.500" rx="9.500" ry="5.200" stroke-width="1.800"/>
<ellipse cx="707.500" cy="1326.500" rx="9.500" ry="5.200" />
<ellipse cx="707.500" cy="1323.500" rx="5" ry="2.500" stroke-width="1.500"/>
<ellipse cx="726.500" cy="1320" rx="6" ry="3.500" stroke-dasharray="4 1.500"/>
<ellipse cx="726.500" cy="1322.500" rx="6" ry="3.500" stroke-dasharray="4 1.500"/>
<path d="M668 1342q-4-8 8-10q10-2 16 4M672 1338l4-2M680 1334l5 1" stroke-width="1.300" stroke-dasharray="5 1.500"/>
<path d="M636 1349L650 1376L660 1383M712 1358V1375.500Q708 1381 696 1382.500M676 1358h36" stroke-dasharray="9 2"/>
<path d="M641 1352l3-6l3 2v10l3 4" stroke-width="1.600"/>
<path d="M660 1366q3-4 6 0q0 6-3 8M668 1362l4 10" stroke-dasharray="3 1.500"/>
<path d="M676 1368q6-6 12 0q0 8-8 8q-6-2-4-8z" stroke-dasharray="4 1.500"/>
<circle cx="684.500" cy="1387.500" r="13" stroke-dasharray="7 2"/>
<path d="M676 1380q8-6 16 0M686 1394q8-2 6-10" />
<!-- pipe to left -->
<path d="M625 1355.500L651 1368.500M623 1367L661 1391M625 1355.500Q619 1355 619.500 1361Q620 1366 623 1367M651 1368.500L672 1378M661 1391l8-2" stroke-dasharray="9 2"/>
<path d="M641 1370l-6 8" />
<ellipse cx="613" cy="1355" rx="3.500" ry="5" transform="rotate(20 613 1355)" stroke-dasharray="2 1"/>
<!-- 7215 -->
<path d="M599 1323.500H590Q584 1324 584 1329Q584 1334.500 590 1335H599" stroke-width="1.200"/>
<path d="M604 1321q3 8 0 16" stroke-dasharray="3 3"/>
<!-- dashed leaders -->
<g stroke-dasharray="5 3.500" stroke-width="1.350">
<path d="M566 1335.500L609 1354.500"/>
<path d="M566 1359.500H597L632 1374"/>
<path d="M640.500 1391L634.500 1426L509 1428V1447"/>
<path d="M687.500 1398L699.500 1422.500"/>
<path d="M668.500 1439V1427L684.500 1425L678.500 1410"/>
</g>
<path d="M674 1402l6-3l3 6l-5 4zM676 1410l4 4" stroke-dasharray="2 1"/>
<!-- 7915 / 6910 -->
<ellipse cx="506" cy="1452" rx="5" ry="2" stroke-dasharray="3 1.500"/>
<path d="M509 1468h-5v14M503 1484l10 3M505 1490l8-6M503 1487h10" stroke-width="1.200"/>
<path d="M506.500 1494Q508 1506 480 1516Q450 1526 428 1527.500M428 1524v4" stroke-dasharray="6 2 1.500 2"/>
</g>
<!-- ===== valve 9520 ===== -->
<g stroke-width="1.100">
<ellipse cx="710" cy="1546.500" rx="6.200" ry="3.200" stroke-dasharray="5 1.500"/>
<ellipse cx="731" cy="1544.500" rx="6.200" ry="3.200" stroke-dasharray="5 2"/>
<ellipse cx="721.500" cy="1562.500" rx="22" ry="6.500" stroke-width="1.500"/>
<path d="M703.500 1560q0-6 6.500-6q6.500 0 6.500 6M724.500 1559q0-6 6.500-6q6.500 0 6.500 6" stroke-width="1.600"/>
<ellipse cx="710" cy="1560" rx="6.500" ry="3" /><ellipse cx="731" cy="1559" rx="6.500" ry="3"/>
<path d="M706 1563v4M714 1563v4M727 1562v4M735 1562v4" stroke-width="1.600"/>
<path d="M702 1568L722 1586Q738 1592 746 1590M742 1568L749 1571" stroke-dasharray="6 2 1.500 2"/>
<ellipse cx="749.500" cy="1581.500" rx="6.600" ry="9.800" transform="rotate(12 749.500 1581.500)" stroke-dasharray="5 1.500"/>
<ellipse cx="748.500" cy="1582" rx="4.500" ry="8" transform="rotate(12 748.500 1582)" stroke-dasharray="3 2"/>
<path d="M704 1574l6 4M705 1579l5-6M714 1570l2 8M720 1572l6 8M722 1580l3-6" />
<path d="M744 1591q4 3 8 0" stroke-width="1.600"/>
<path d="M719.500 1588v8" stroke-width="1.300" stroke-dasharray="2 1.500"/>
<path d="M690 1576q4-2 6 2q0 5-4 5q-3-2-2-7zM692 1574l2 10" stroke-dasharray="2 1"/>
<path d="M655 1597L692 1580" stroke-dasharray="5 3.500" stroke-width="1.350"/>
</g>
<!-- clamps (black) -->
<g stroke-width="4.600">
<ellipse cx="769.500" cy="1584.500" rx="5.200" ry="11"/><path d="M764 1576q2-8 5-3" stroke-width="3"/>
<ellipse cx="837.500" cy="1595.500" rx="5.500" ry="11"/><path d="M832 1588q1-8 5-4" stroke-width="3"/>
<ellipse cx="843.500" cy="1648" rx="4.500" ry="11" transform="rotate(-14 843.500 1648)"/><path d="M841 1634l3 8" stroke-width="3"/>
<ellipse cx="764.500" cy="1689.500" rx="4.500" ry="11" transform="rotate(-14 764.500 1689.500)"/><path d="M762 1676l3 8" stroke-width="3"/>
<ellipse cx="668.500" cy="1741" rx="4.500" ry="10.500" transform="rotate(-14 668.500 1741)"/><path d="M666 1728l3 8" stroke-width="3"/>
<ellipse cx="607.500" cy="1717" rx="9" ry="5.500" transform="rotate(-12 607.500 1717)" stroke-width="3.200"/><path d="M612 1710l7-5M604 1706l3 4" stroke-width="3"/>
</g>
<!-- 7831 sleeve / 4504 tube -->
<g stroke-width="1.100">
<path d="M794 1581Q786 1583 787 1592Q788 1601 796 1602L814 1604M794 1581L814 1583" stroke-dasharray="7 2.500"/>
<ellipse cx="814" cy="1593.500" rx="5.500" ry="10.500" stroke-dasharray="7 2 1.500 2"/>
<path d="M809 1584v18" stroke-dasharray="3 3"/>
<path d="M781 1672L812 1657Q818 1656 819 1662Q820 1668 816 1671L786 1687" stroke-dasharray="7 2 1.500 2"/>
<ellipse cx="783.500" cy="1680" rx="4" ry="8" transform="rotate(-12 783.500 1680)" stroke-dasharray="6 1.500"/>
<path d="M592 1682L606 1707M612 1726L616 1734" stroke-dasharray="5 3.500" stroke-width="1.350"/>
</g>
<!-- 4500 pump -->
<g stroke-width="1.100">
<ellipse cx="700" cy="1729" rx="6" ry="10" transform="rotate(-10 700 1729)"/>
<path d="M698 1720q-4 8 0 18M704 1722v14" />
<path d="M698 1719L704 1705L724 1701L742 1694M703 1739L738 1720Q744 1712 742 1700" />
<path d="M704 1705l2 4l20-6" />
<path d="M708 1728v10l4-2v-8zM708 1728l4-2" stroke-width="1.400"/>
<path d="M713 1733L732 1722" stroke-width="2.600" stroke-dasharray="1.500 1.200" stroke-linecap="butt"/>
<path d="M712 1740L738 1725" stroke-dasharray="4 2"/>
<path d="M727 1698q0-8 6-9q6 2 6 8M729 1692l8 4M733 1689v10M738 1696l2 12M736 1702l-2 12" stroke-dasharray="3 1.200"/>
<path d="M744 1694Q752 1696 751 1706Q750 1714 744 1716" stroke-dasharray="5 2.500"/>
</g>
<!-- 7550 elbow -->
<g stroke-width="1.100">
<path d="M614 1752Q612 1742 622 1739.500Q632 1738 636 1746" stroke-dasharray="6 2"/>
<path d="M614 1752Q616 1762 626 1765L640 1762" stroke-dasharray="5 2"/>
<path d="M620 1758q-2-10 10-12M624 1762q-4-12 10-14" stroke-width="1.400"/>
<path d="M636 1746l8 14M640 1744l6 16M634 1763l12-3" stroke-dasharray="3 2"/>
<path d="M630 1746l6 2" stroke-width="2"/>
</g>
<!-- ===== 4000 dashed box ===== -->
<path d="M857 1386.500H1381V1572.500H1019.500V1659H857z" stroke-width="1.600" stroke-dasharray="5.500 4"/>
<!-- 4200 -->
<g stroke-width="1.100">
<path d="M912 1548L931 1537L934 1542L915 1552" stroke-dasharray="6 2"/>
<path d="M931 1537l6-3l3 4l-6 4z"/><path d="M934 1534l2 8M937 1533l1 6" />
<path d="M906 1549l6 0l-2 3" /><circle cx="902.500" cy="1551.500" r="1.300" style="fill:#000"/>
</g>
<!-- 9155, 4001, 4002, 4003 -->
<g stroke-width="1.200">
<path d="M1227 1447L1238 1441" stroke-width="2" /><circle cx="1239.500" cy="1440.500" r="1.800"/>
<circle cx="1140.500" cy="1489.500" r="7.500" stroke-width="1.600" stroke-dasharray="2 1"/>
<circle cx="1140.500" cy="1489.500" r="4.500" stroke-width="1.600" stroke-dasharray="1.500 1"/>
<circle cx="1140.500" cy="1489.500" r="2" stroke-width="1.500"/>
<ellipse cx="1082" cy="1517" rx="8" ry="11" transform="rotate(-20 1082 1517)" stroke-width="1.600"/>
<ellipse cx="1082" cy="1517" rx="5" ry="8" transform="rotate(-20 1082 1517)" stroke-dasharray="2 1"/>
<path d="M1078 1506L1108 1512L1112 1528L1090 1526M1094 1512l4 12M1100 1514l8 10M1108 1514l-8 10" />
<ellipse cx="1090.500" cy="1517" rx="2.500" ry="5" />
<ellipse cx="1018.500" cy="1551.500" rx="7.500" ry="9.500" transform="rotate(-15 1018.500 1551.500)" stroke-width="1.600"/>
<ellipse cx="1018.500" cy="1551.500" rx="4.500" ry="6.500" transform="rotate(-15 1018.500 1551.500)" stroke-width="2"/>
</g>
<!-- 4504 motor -->
<g stroke-width="1.100">
<path d="M930 1576l4 40M936 1574l4 38M942 1572l4 14M922 1590l8-3M922 1598l8-3M923 1606l8-3M924 1614l8-3" stroke-dasharray="3 1"/>
<path d="M944 1590l12-5M946 1598l6-2M948 1612l12-6M952 1618l8-4M956 1596v14M960 1586v20" stroke-width="1.300" stroke-dasharray="3 1"/>
<path d="M906 1578q10 14 10 34q0 20-6 32" stroke-dasharray="5 2"/>
<ellipse cx="901" cy="1611.500" rx="16" ry="38" stroke-dasharray="6 2" transform="rotate(8 901 1611.500)"/>
<path d="M896 1580Q912 1590 914 1616Q914 1638 906 1646" stroke-dasharray="6 2"/>
<path d="M884 1592Q866 1590 863.500 1602Q866 1612 876 1612" stroke-dasharray="6 2.500"/>
<path d="M884 1592l10-3" />
<path d="M870 1620q4-10 14-8l6 10l-2 14l-8-4l-6 4q-6-6-4-16z" stroke-dasharray="4 1.500"/>
<path d="M880 1612v22" stroke-dasharray="4 2"/>
<path d="M896 1600v30" stroke-dasharray="8 3"/>
<path d="M913.500 1576.500L940 1566L952.500 1565L962 1582L964 1610L958 1616L928.500 1631" stroke-dasharray="5 1.500"/>
<path d="M918 1580L940 1572L950 1590L952 1606L930 1616M940 1572L944 1566M950 1590L962 1584" stroke-width="1.300"/>
<path d="M924 1584l2 30M930 1582l2 6M920 1586l10-3M926 1596l4 0M927 1604l4 0M928 1610l3 0" stroke-dasharray="3 1"/>
<path d="M950 1592h8v10h-8zM954 1590v16M958 1588l2 16M946 1608l14-6M940 1614l18-8M936 1622l20-10M932 1628l6-2" stroke-width="1.300" stroke-dasharray="4 1"/>
<path d="M928.500 1631l6-10l24-12" style="fill:none" stroke-width="1.600"/>
</g>
<!-- ===== base plate 0040 ===== -->
<g stroke-width="1">
<path d="M528 1907.500L657.500 1867.500L882.500 1968.500L752 2007.500z" stroke-width="1.300" stroke-dasharray="3 1"/>
<path d="M534 1908L657 1870.500L876 1968.500L752.500 2004.500z" stroke-width="1.300" stroke-dasharray="2 1"/>
<path d="M692 1888.500L836 1954" stroke-width="3.600" stroke-dasharray="1.300 1.300" stroke-linecap="butt"/>
<path d="M692 1888.500L836 1954" style="stroke:#fff" stroke-width="1.200"/>
<path d="M571 1921Q566 1904 580 1898L612 1886M640 1884Q670 1884 692 1890M836 1954Q842 1962 838.500 1977M716 1987L746 1996L800 1984" stroke-dasharray="8 3 1.500 3"/>
<path d="M593.500 1928.500L652 1911Q660 1909 668 1912L780 1960Q786 1964 780 1967L724 1987Q716 1989 708 1986z" stroke-dasharray="4 2"/>
<ellipse cx="678.500" cy="1950" rx="16" ry="7.500" stroke-width="1.200"/>
<path d="M672 1947q6-4 12 0M674 1950l6 2" stroke-dasharray="2 1"/>
<ellipse cx="669.500" cy="1879.500" rx="8" ry="4" stroke-dasharray="5 1.500"/>
<ellipse cx="556" cy="1912.500" rx="7" ry="3.500" stroke-dasharray="5 1.500"/>
<ellipse cx="857.500" cy="1962" rx="8" ry="4" stroke-dasharray="5 1.500"/>
<ellipse cx="741.500" cy="1995.500" rx="8" ry="4" stroke-dasharray="5 1.500"/>
</g>
<!-- 7560 -->
<g stroke-width="1.100">
<path d="M674 1855Q676 1848 686 1846L700 1836L716 1824Q724 1816 734 1818Q740 1820 738.500 1830" stroke-dasharray="7 1.500"/>
<path d="M674 1855q2 6 10 5l20-4l30 6l4-4M738.500 1830V1848L734 1862" stroke-dasharray="5 2"/>
<path d="M684 1848L730 1832M690 1852L732 1838M700 1836l8 14M716 1826l10 22M724 1830l4 16" stroke-width="1.300"/>
<path d="M676 1852q6-4 12 0q-4 6-12 0zM694 1854l10-2" stroke-width="1.600"/>
<path d="M686 1836l6 4M728 1822q6 6 4 16" />
<path d="M735 1857l4 4h-6z" style="fill:#000"/>
</g>
<path d="M751 1850L770 1855V1862L751 1857zM751 1853.500L762 1856.500" stroke-width="2"/>
<path d="M627 1809L672 1831M740 1861L775 1877" stroke-dasharray="5 3.500" stroke-width="1.350"/>
<path d="M656 1822l4-4l2 4l4 0l-4 5q-4 0-6-5z" stroke-width="1" stroke-dasharray="3 1"/>
<!-- screws bottom -->
<g stroke-width="1.300">
<path d="M538 1931V1942" stroke-width="1.600"/><path d="M535 1944q3-4 6 0q-3 4-6 0z"/>
<path d="M864 1998V2022" stroke-width="3.200" stroke-dasharray="1.500 1.200" stroke-linecap="butt"/><path d="M861 2024q3-4 6 0l-3 3z"/>
<path d="M743.500 2028V2052" stroke-width="4" stroke-dasharray="2 1" stroke-linecap="butt"/><path d="M740 2054q3-4 7 0l-3 3z" stroke-width="1.600"/>
</g>
<!-- 9932 wrench -->
<path d="M670 2078q0-4 6-4l14 1q14-2 22-10l8-6l8-1l2 4l-6 1l-1 4l6 2l4-4v6q-2 6-10 6q-8 2-14 6l-12 2l-14-1q-6 2-10-2z" stroke-width="1.100" stroke-dasharray="7 1.500"/>
<!-- ===== bottom-left : 5830 / 7104 / 7140 ===== -->
<g stroke-width="1.100">
<ellipse cx="218.500" cy="1575" rx="12" ry="13" stroke-dasharray="4 1.200"/>
<ellipse cx="217" cy="1575" rx="9" ry="10.500" stroke-dasharray="2 1.200"/>
<path d="M212 1568l10 4M210 1576l12 2M214 1584l10-4M218 1564l2 20M224 1566l-6 18M226 1580l4 2" stroke-width="1.300" stroke-dasharray="3 1"/>
<path d="M245 1573q3-2 5 0v5q-2 2-5 0z" stroke-dasharray="2 1"/><path d="M247 1570v4" />
<path d="M235 1576H243M252 1576H327" stroke-dasharray="5 3.500" stroke-width="1.350"/>
<path d="M194 1570h8M194 1570l1 50M198 1572l1 48M201 1570l2 48M195 1620q4 2 8-1" stroke-width="1.200"/>
<path d="M198 1622l5 1" />
<!-- 7140 -->
<path d="M245 1648Q246 1640 258 1637.500Q272 1636 284 1642Q287 1648 284 1652Q270 1660 256 1657Q246 1654 245 1648z" stroke-dasharray="6 1.500"/>
<path d="M265 1641l-12 8M265 1641l-8 14M265 1641l2 16M265 1641l14 10M265 1641l18 2M265 1641l-14-2M253 1649v6M267 1650v8" />
<path d="M260 1638l10 6M262 1644l8-6" stroke-width="2"/>
</g>
<!-- ===== 7100 tank ===== -->
<g stroke-width="1.100">
<ellipse cx="261.500" cy="1774" rx="14" ry="6" stroke-width="2"/>
<ellipse cx="263" cy="1802" rx="24.500" ry="7.200" stroke-width="2.800"/>
<ellipse cx="262" cy="1813" rx="17" ry="4.500" stroke-dasharray="7 2"/>
<path d="M246 1813l-4 8M279 1813l4 8M246 1822l3-4l3 3M275 1820l3 3" />
<ellipse cx="214" cy="1830" rx="23" ry="10" stroke-dasharray="7 2"/>
<path d="M189 1826q-8 0-9 8" stroke-dasharray="4 2"/>
<path d="M240 1832Q244 1824 262 1823Q284 1824 296 1832Q304 1838 303 1845" stroke-dasharray="7 2 1.500 2"/>
<path d="M242 1840Q262 1830 284 1838M238 1848Q250 1856 272 1855Q296 1852 303 1842" stroke-dasharray="9 3"/>
<path d="M180 1834V1900" stroke-dasharray="22 5"/>
<path d="M189 1836V1900" stroke-dasharray="8 3 1.500 3"/>
<path d="M229.500 1845V1944M232 1845V1946" />
<path d="M178 1906l12-4l6 4v6" stroke-dasharray="5 2"/>
<path d="M189 1912Q196 1922 214 1926Q224 1928 230 1926M200 1926Q210 1936 230 1938" stroke-dasharray="7 2"/>
<path d="M234 1940Q250 1948 272 1946Q296 1942 304 1930M234 1932Q260 1934 284 1930Q300 1926 304 1920" stroke-dasharray="8 2 1.500 2"/>
<path d="M304 1920V1934" stroke-dasharray="4 2"/>
<path d="M280 1936l18-6M286 1940l14-6" stroke-dasharray="2 1.500"/>
<path d="M176 1918l6-2l3 5l-5 3zM184 1922l6-2l3 5l-6 3z" stroke-width="1.300"/>
<path d="M160 1926l4 4l-2 4M166 1934l8 0l2 4l-4 4l-4-2M170 1928l6 6" stroke-width="1.200" stroke-dasharray="3 1"/>
<path d="M214 1928h10v10h-8zM216 1928v14M224 1934l4 2" stroke-width="1.200"/>
<path d="M230 1944l4 2l2-4M228 1950l6 0M220 1950l2 6l4-2l-2-6z" stroke-width="1.300" stroke-dasharray="3 1"/>
<path d="M266 1908l1 1" stroke-width="1.500"/>
<!-- dashed leaders -->
<g stroke-dasharray="5 3.500" stroke-width="1.350">
<path d="M70.500 1969V1959H117.500L162 1932.500"/>
<path d="M110 1973L172 1934"/>
<path d="M182 1975L223 1952"/>
</g>
<!-- 7106 -->
<ellipse cx="252.500" cy="1963.500" rx="6" ry="5.500" stroke-width="2.200"/>
<!-- 5750 -->
<path d="M263 1986l10-6l12 2v16l-8 2l-12-8z" stroke-dasharray="5 1.500"/>
<path d="M273 1982v16M277 1984v16M283 1980v8h-4M265 1988l8 4M285 1990l4 0" stroke-width="1.300"/>
<path d="M281 1976v8l3 1v-8z" stroke-width="1.200"/>
<!-- 7107 -->
<path d="M284 2010q0-4 6-5l10-2v12l-6 4l-10-3z" stroke-dasharray="6 1.500"/>
<path d="M300 2003v12M304 2002v14l8 4M310 2002v14l8 3l4-2M300 2015l-6 4" stroke-width="1.200"/>
<path d="M302 1998v6" />
<!-- 9104 pins -->
<path d="M314 2042l8 10M322 2040l9 10M318 2054l4 2" stroke-width="1.200"/>
</g>

</g>
<g id="labels">
<text x="327" y="207.9" font-size="21">7160</text>
<line x1="276" y1="211" x2="373" y2="211" stroke-width="2"/>
<text x="326" y="355.9" font-size="21">7161</text>
<line x1="301" y1="360" x2="372" y2="360" stroke-width="2"/>
<text x="380" y="382.9" font-size="21">7163</text>
<line x1="344" y1="386" x2="428" y2="386" stroke-width="2"/>
<text x="382" y="418.9" font-size="21">7164</text>
<line x1="362" y1="422" x2="430" y2="422" stroke-width="2"/>
<line x1="362" y1="407" x2="362" y2="422" stroke-width="2"/>
<text x="299" y="437.9" font-size="21">6315</text>
<line x1="296" y1="440" x2="352" y2="440" stroke-width="2"/>
<text x="131" y="445.9" font-size="21">7840</text>
<line x1="132" y1="449" x2="204" y2="449" stroke-width="2"/>
<text x="273" y="468.9" font-size="21">9018</text>
<line x1="272" y1="475" x2="323" y2="475" stroke-width="2"/>
<line x1="272" y1="475" x2="272" y2="497" stroke-width="2"/>
<text x="388" y="462.9" font-size="21">1910</text>
<line x1="387" y1="465" x2="434" y2="465" stroke-width="2"/>
<line x1="387" y1="465" x2="387" y2="483" stroke-width="2"/>
<text x="479" y="464.2" font-size="21">9640</text>
<line x1="478" y1="467.7" x2="526" y2="467.7" stroke-width="2"/>
<line x1="479" y1="467.7" x2="479" y2="485" stroke-width="2"/>
<text x="586" y="374.9" font-size="21">9021</text>
<line x1="587" y1="378" x2="650" y2="378" stroke-width="2"/>
<line x1="650" y1="378" x2="650" y2="397" stroke-width="2"/>
<text x="570" y="435.9" font-size="21">2000</text>
<line x1="571" y1="440" x2="634" y2="440" stroke-width="2"/>
<line x1="634" y1="440" x2="634" y2="512" stroke-width="1.5"/>
<text x="804" y="390.9" font-size="21">9930</text>
<line x1="805" y1="395" x2="893" y2="395" stroke-width="2"/>
<text x="832" y="442.9" font-size="21">7810</text>
<line x1="833" y1="448" x2="921" y2="448" stroke-width="1.5"/>
<text x="1087" y="47.9" font-size="21">4900</text>
<line x1="1019" y1="53" x2="1139" y2="53" stroke-width="2"/>
<line x1="1139" y1="53" x2="1139" y2="314" stroke-width="2"/>
<text x="1088" y="215.9" font-size="21">4901</text>
<line x1="1071" y1="218" x2="1139" y2="218" stroke-width="1.5"/>
<text x="1086" y="311.9" font-size="21">4910</text>
<line x1="1018" y1="314" x2="1139" y2="314" stroke-width="2"/>
<text x="1087" y="346.9" font-size="21">4210</text>
<line x1="992" y1="351" x2="1137" y2="351" stroke-width="2"/>
<line x1="992" y1="351" x2="992" y2="357" stroke-width="2"/>
<text x="1353" y="165.9" font-size="21">7000</text>
<line x1="1349" y1="171" x2="1397" y2="171" stroke-width="2"/>
<line x1="1349" y1="171" x2="1349" y2="216" stroke-width="2"/>
<line x1="1336" y1="216" x2="1349" y2="216" stroke-width="2"/>
<text x="1269" y="490.4" font-size="21">7012</text>
<line x1="1233" y1="498.5" x2="1316" y2="498.5" stroke-width="2"/>
<text x="1269.6" y="517.9" font-size="21">7011</text>
<line x1="1231" y1="520" x2="1317" y2="520" stroke-width="1.5"/>
<text x="997.6" y="457.3" font-size="21">9116</text>
<line x1="997" y1="461" x2="1043" y2="461" stroke-width="2"/>
<line x1="997" y1="461" x2="997" y2="480" stroke-width="2"/>
<text x="1388" y="595.4" font-size="21">0240</text>
<line x1="1233.5" y1="597.8" x2="1434" y2="597.8" stroke-width="2"/>
<text x="1386.6" y="645.9" font-size="21">9116</text>
<line x1="1257" y1="647.8" x2="1433" y2="647.8" stroke-width="2"/>
<text x="1125" y="694.6" font-size="21">9152</text>
<line x1="1116.5" y1="695.7" x2="1172.7" y2="695.7" stroke-width="2"/>
<line x1="1116.5" y1="655.6" x2="1116.5" y2="695.7" stroke-width="2"/>
<text x="1123.7" y="723.9" font-size="21">9153</text>
<line x1="1107" y1="726" x2="1172" y2="726" stroke-width="2"/>
<line x1="1107" y1="660" x2="1107" y2="726" stroke-width="2"/>
<text x="1125" y="753.7" font-size="21">9106</text>
<line x1="1090" y1="757.7" x2="1172.7" y2="757.7" stroke-width="2"/>
<line x1="1090" y1="672" x2="1090" y2="757.7" stroke-width="2"/>
<text x="1262" y="764.9" font-size="21">9117</text>
<line x1="1237" y1="770" x2="1311" y2="770" stroke-width="2"/>
<line x1="1237" y1="770" x2="1237" y2="837.5" stroke-width="2"/>
<line x1="1310" y1="770" x2="1310" y2="795.5" stroke-width="2"/>
<text x="949" y="561.9" font-size="21">9017</text>
<line x1="948" y1="567" x2="995" y2="567" stroke-width="2"/>
<line x1="948" y1="567" x2="948" y2="585" stroke-width="2"/>
<text x="949" y="695.9" font-size="21">9016</text>
<line x1="948" y1="673.4" x2="995" y2="673.4" stroke-width="2"/>
<line x1="948" y1="618" x2="948" y2="673.4" stroke-width="2"/>
<text x="308" y="522.9" font-size="21">7835</text>
<line x1="295" y1="525" x2="355" y2="525" stroke-width="2"/>
<text x="255" y="557.9" font-size="21">9012</text>
<line x1="240" y1="560" x2="301" y2="560" stroke-width="2"/>
<text x="281" y="625.9" font-size="21">7839</text>
<line x1="271" y1="636" x2="331" y2="636" stroke-width="2"/>
<line x1="271" y1="600" x2="271" y2="636" stroke-width="2"/>
<text x="72" y="585.9" font-size="21">9016</text>
<line x1="72" y1="591" x2="128" y2="591" stroke-width="2"/>
<line x1="128" y1="591" x2="197" y2="552" stroke-width="2"/>
<text x="318" y="802.9" font-size="21">2611</text>
<line x1="299" y1="806" x2="363" y2="806" stroke-width="2"/>
<line x1="300" y1="779" x2="300" y2="806" stroke-width="2"/>
<text x="261" y="833.9" font-size="21">2610</text>
<line x1="204" y1="839" x2="307" y2="839" stroke-width="2"/>
<text x="146" y="904.9" font-size="21">2612</text>
<line x1="121" y1="908" x2="193" y2="908" stroke-width="2"/>
<line x1="121" y1="882" x2="121" y2="908" stroke-width="2"/>
<text x="453" y="700.9" font-size="21">1310</text>
<line x1="432" y1="703" x2="500" y2="703" stroke-width="1.5"/>
<text x="543.5" y="679.6" font-size="21">7162</text>
<line x1="543" y1="685" x2="608" y2="685" stroke-width="2"/>
<line x1="608" y1="658" x2="608" y2="685" stroke-width="2"/>
<text x="806" y="814.9" font-size="21">0440</text>
<line x1="800" y1="819.5" x2="855" y2="819.5" stroke-width="2"/>
<text x="894.7" y="729.7" font-size="21">0472 L</text>
<text x="894" y="750.4" font-size="21">0473 R</text>
<line x1="798" y1="761.5" x2="934" y2="761.5" stroke-width="1.3"/>
<text x="658.7" y="951.3" font-size="21">0470</text>
<line x1="657" y1="957.6" x2="709.6" y2="957.6" stroke-width="2"/>
<line x1="709.6" y1="957.6" x2="764.8" y2="931" stroke-width="2"/>
<text x="933" y="892.1" font-size="21">0471</text>
<line x1="792.8" y1="900.5" x2="980" y2="900.5" stroke-width="1.5"/>
<text x="933" y="843.8" font-size="21">9113</text>
<line x1="896" y1="846.7" x2="978" y2="846.7" stroke-width="1.5"/>
<text x="899" y="947.9" font-size="21">9213</text>
<line x1="822" y1="951.6" x2="944.8" y2="951.6" stroke-width="1.5"/>
<text x="834.6" y="991.9" font-size="21">7561</text>
<line x1="807.5" y1="996" x2="883" y2="996" stroke-width="2"/>
<text x="834" y="1021.4" font-size="21">9016</text>
<line x1="802" y1="1025.8" x2="883" y2="1025.8" stroke-width="2"/>
<text x="676" y="1047.3" font-size="21">0013</text>
<line x1="676.5" y1="1051" x2="752" y2="1051" stroke-width="2"/>
<line x1="752" y1="1018.8" x2="752" y2="1051" stroke-width="2"/>
<text x="586" y="1018.9" font-size="21">1201</text>
<line x1="494" y1="1022.8" x2="632.8" y2="1022.8" stroke-width="2"/>
<text x="586" y="1059.7" font-size="21">9113</text>
<line x1="570" y1="1063.6" x2="632.8" y2="1063.6" stroke-width="1.5"/>
<text x="205" y="1113.9" font-size="21">4320</text>
<line x1="206" y1="1119.6" x2="259" y2="1119.6" stroke-width="2"/>
<line x1="206.6" y1="1119.6" x2="206.6" y2="1162" stroke-width="1.5"/>
<text x="304" y="1114.9" font-size="21">9119</text>
<line x1="296" y1="1121" x2="349" y2="1121" stroke-width="2"/>
<line x1="296.4" y1="1121" x2="296.4" y2="1160" stroke-width="2"/>
<text x="359.8" y="1300.9" font-size="21">4300</text>
<polyline points="370,1088 138,1088 138,1305 407,1305" stroke-width="2"/>
<text x="746.5" y="1193.7" font-size="21">9522</text>
<line x1="748" y1="1197.6" x2="816.4" y2="1197.6" stroke-width="2"/>
<text x="791" y="1252.7" font-size="21">9013</text>
<line x1="747" y1="1256.7" x2="838" y2="1256.7" stroke-width="2"/>
<text x="791" y="1280.3" font-size="21">7910</text>
<line x1="747" y1="1284" x2="838" y2="1284" stroke-width="2"/>
<text x="791" y="1307.5" font-size="21">7512</text>
<line x1="725.7" y1="1312.6" x2="896" y2="1312.6" stroke-width="2"/>
<text x="791" y="1334.7" font-size="21">7511</text>
<line x1="692" y1="1337.7" x2="897" y2="1337.7" stroke-width="2"/>
<text x="528.6" y="1261.5" font-size="21">9012</text>
<line x1="529.6" y1="1265" x2="614.4" y2="1265" stroke-width="2"/>
<line x1="614" y1="1265" x2="614" y2="1350.7" stroke-width="2"/>
<text x="529" y="1297.9" font-size="21">7215</text>
<line x1="529.6" y1="1302" x2="598.5" y2="1302" stroke-width="1.5"/>
<line x1="598.5" y1="1302" x2="598.5" y2="1320.7" stroke-width="1.5"/>
<text x="464" y="1324.4" font-size="21">7839</text>
<line x1="464" y1="1328.5" x2="540" y2="1328.5" stroke-width="2"/>
<text x="555" y="1405.4" font-size="21">9016</text>
<line x1="555" y1="1409.7" x2="672.7" y2="1409.7" stroke-width="2"/>
<text x="555" y="1451.3" font-size="21">7841</text>
<line x1="554.7" y1="1455.3" x2="655" y2="1455.3" stroke-width="2"/>
<text x="408.4" y="1406.9" font-size="21">6920</text>
<line x1="402.4" y1="1412" x2="461.4" y2="1412" stroke-width="2"/>
<line x1="402.4" y1="1412" x2="402.4" y2="1486" stroke-width="2"/>
<text x="406.7" y="1445.9" font-size="21">7915</text>
<line x1="402.4" y1="1451.4" x2="494" y2="1451.4" stroke-width="2"/>
<text x="406.7" y="1481.3" font-size="21">6910</text>
<line x1="402.4" y1="1485.7" x2="496" y2="1485.7" stroke-width="1.5"/>
<text x="638.5" y="1501.9" font-size="21">9520</text>
<line x1="640" y1="1507" x2="732.8" y2="1507" stroke-width="2"/>
<line x1="708" y1="1507" x2="708" y2="1536" stroke-width="1.5"/>
<line x1="732" y1="1507" x2="732" y2="1536" stroke-width="1.5"/>
<text x="579" y="1541.7" font-size="21">9026</text>
<line x1="579" y1="1546.4" x2="671" y2="1546.4" stroke-width="1.5"/>
<line x1="671" y1="1546.4" x2="688" y2="1574" stroke-width="1.5"/>
<text x="537" y="1601.9" font-size="21">7837</text>
<line x1="536" y1="1606.8" x2="628" y2="1606.8" stroke-width="2"/>
<text x="663" y="1634.9" font-size="21">9104</text>
<line x1="663" y1="1638" x2="720" y2="1638" stroke-width="2"/>
<line x1="720" y1="1598" x2="720" y2="1638" stroke-width="2"/>
<text x="691" y="1661.7" font-size="21">7612</text>
<line x1="692" y1="1664" x2="750" y2="1664" stroke-width="2"/>
<line x1="750" y1="1594" x2="750" y2="1664" stroke-width="2"/>
<text x="771" y="1640.9" font-size="21">9012</text>
<line x1="774" y1="1644" x2="836" y2="1644" stroke-width="2"/>
<text x="1009" y="1681.9" font-size="21">4504</text>
<line x1="806" y1="1686.4" x2="1060" y2="1686.4" stroke-width="2"/>
<text x="1007" y="1711.7" font-size="21">9012</text>
<line x1="798" y1="1716.8" x2="1058" y2="1716.8" stroke-width="2"/>
<line x1="798" y1="1716.8" x2="780" y2="1704" stroke-width="2"/>
<text x="797" y="1741.9" font-size="21">4500</text>
<line x1="744" y1="1747" x2="844.8" y2="1747" stroke-width="2"/>
<line x1="744" y1="1747" x2="732" y2="1734" stroke-width="2"/>
<text x="752" y="1774.9" font-size="21">9014</text>
<line x1="673" y1="1780" x2="798" y2="1780" stroke-width="2"/>
<line x1="673" y1="1756" x2="673" y2="1780" stroke-width="2"/>
<text x="501" y="1712.9" font-size="21">9014</text>
<line x1="500.8" y1="1716.8" x2="594" y2="1716.8" stroke-width="2"/>
<text x="501" y="1744.9" font-size="21">7550</text>
<line x1="500.8" y1="1750" x2="608" y2="1750" stroke-width="2"/>
<text x="501" y="1784.9" font-size="21">7840</text>
<line x1="500.8" y1="1789" x2="604" y2="1789" stroke-width="2"/>
<text x="500.6" y="1823.9" font-size="21">9017</text>
<line x1="500.9" y1="1827.9" x2="652.8" y2="1827.9" stroke-width="2"/>
<text x="804" y="1819.9" font-size="21">7560</text>
<line x1="744" y1="1824.5" x2="849" y2="1824.5" stroke-width="1.3"/>
<text x="846" y="1850.4" font-size="21">6311</text>
<line x1="774" y1="1857.7" x2="896" y2="1857.7" stroke-width="1.3"/>
<text x="863.8" y="1879.9" font-size="21">7842</text>
<line x1="802" y1="1883" x2="908.5" y2="1883" stroke-width="2"/>
<text x="905.7" y="1914.6" font-size="21">0040</text>
<line x1="788" y1="1918" x2="950.7" y2="1918" stroke-width="2"/>
<text x="453" y="1944.5" font-size="21">9115</text>
<line x1="453" y1="1948.5" x2="525.9" y2="1948.5" stroke-width="2"/>
<text x="905.7" y="1999.7" font-size="21">0110</text>
<line x1="876.8" y1="2004" x2="949.6" y2="2004" stroke-width="2"/>
<text x="600" y="2068.4" font-size="21">9932</text>
<line x1="603" y1="2076.9" x2="665.9" y2="2076.9" stroke-width="2"/>
<text x="226.5" y="1508.6" font-size="21">5830</text>
<line x1="218.5" y1="1511.4" x2="270.4" y2="1511.4" stroke-width="2"/>
<line x1="218.8" y1="1511.4" x2="218.8" y2="1552.4" stroke-width="2"/>
<text x="282.3" y="1544.9" font-size="21">9016</text>
<line x1="247.8" y1="1550" x2="327" y2="1550" stroke-width="2"/>
<line x1="248.4" y1="1550" x2="248.4" y2="1561.4" stroke-width="2"/>
<text x="394" y="1571.4" font-size="21">7837</text>
<line x1="356" y1="1575.3" x2="439.6" y2="1575.3" stroke-width="2"/>
<text x="93" y="1597.9" font-size="21">7104</text>
<line x1="94" y1="1603.7" x2="188" y2="1603.7" stroke-width="2"/>
<text x="335.7" y="1635.9" font-size="21">7140</text>
<line x1="289" y1="1646.8" x2="385" y2="1646.8" stroke-width="2"/>
<text x="337.5" y="1693.5" font-size="21">7100</text>
<line x1="141" y1="1697" x2="392.8" y2="1697" stroke-width="2"/>
<line x1="392.5" y1="1697" x2="392.5" y2="2049.4" stroke-width="2"/>
<text x="335" y="1769.5" font-size="21">7102</text>
<line x1="275" y1="1773.5" x2="392" y2="1773.5" stroke-width="2"/>
<text x="337.5" y="1798.9" font-size="21">7103</text>
<line x1="288" y1="1803" x2="392" y2="1803" stroke-width="2"/>
<text x="321" y="1947.9" font-size="21">7106</text>
<line x1="295.4" y1="1952" x2="392" y2="1952" stroke-width="2"/>
<polyline points="296,1952 296,1967 260.7,1967" stroke-width="2"/>
<text x="321.6" y="1974.9" font-size="21">5750</text>
<line x1="304.5" y1="1978" x2="392" y2="1978" stroke-width="2"/>
<polyline points="304.5,1978 304.5,1992.7 289.4,1992.7" stroke-width="2"/>
<text x="337.5" y="2006.3" font-size="21">7107</text>
<line x1="322.6" y1="2012" x2="392" y2="2012" stroke-width="2"/>
<text x="338" y="2037.4" font-size="21">9104</text>
<line x1="337" y1="2049.4" x2="392" y2="2049.4" stroke-width="2"/>
<text x="1400" y="1411.9" font-size="21">4000</text>
<line x1="1382" y1="1415" x2="1451.6" y2="1415" stroke-width="1.5" stroke-dasharray="5 4"/>
<text x="1124" y="1441.3" font-size="21">9155</text>
<line x1="1123.8" y1="1442.6" x2="1228" y2="1442.6" stroke-width="2"/>
<text x="930" y="1487.5" font-size="21">4200</text>
<line x1="922.7" y1="1492" x2="974" y2="1492" stroke-width="2"/>
<line x1="922.7" y1="1492" x2="922.7" y2="1530.6" stroke-width="2"/>
<text x="1183" y="1484.4" font-size="21">4001</text>
<line x1="1154.6" y1="1490.6" x2="1236" y2="1490.6" stroke-width="2"/>
<text x="1180" y="1518.9" font-size="21">4002</text>
<line x1="1119.4" y1="1522.7" x2="1223.7" y2="1522.7" stroke-width="1.3"/>
<text x="1178.7" y="1552.6" font-size="21">4003</text>
<line x1="1029" y1="1555.7" x2="1236" y2="1555.7" stroke-width="2"/>
<line x1="1236" y1="1490.6" x2="1236" y2="1555.7" stroke-width="2"/>
<text x="1240" y="1518.9" font-size="21">4004</text>
<line x1="1236" y1="1522" x2="1288" y2="1522" stroke-width="2"/>
<text x="1089.5" y="956.3" font-size="21">9154</text>
<line x1="1093" y1="961.4" x2="1173" y2="961.4" stroke-width="1.5"/>
<text x="1134.5" y="1063.9" font-size="21">9118</text>
<line x1="1131.6" y1="1070" x2="1197" y2="1070" stroke-width="2"/>
<line x1="1197" y1="1070" x2="1197" y2="1121.6" stroke-width="2"/>
<text x="1385.6" y="1063.9" font-size="21">9115</text>
<line x1="1384.5" y1="1070" x2="1431.6" y2="1070" stroke-width="2"/>
<line x1="1384.5" y1="1070" x2="1384.5" y2="1106" stroke-width="2"/>
<text x="1385.6" y="872.9" font-size="21">0220 L</text>
<text x="1385.6" y="896.3" font-size="21">0221 R</text>
<line x1="1326.6" y1="898.4" x2="1433" y2="898.4" stroke-width="2"/>
<text x="1255" y="2078" font-size="34" class="rg" textLength="188" lengthAdjust="spacingAndGlyphs">1889815401</text>
<text transform="translate(157,744) rotate(-90)" font-size="21">7838</text>
<line x1="161" y1="687" x2="161" y2="743" stroke-width="2.4"/>
<text transform="translate(188,744) rotate(-90)" font-size="21">7837</text>
<line x1="192" y1="687" x2="192" y2="743" stroke-width="2.4"/>
<text transform="translate(217,744) rotate(-90)" font-size="21">7836</text>
<line x1="221" y1="687" x2="221" y2="743" stroke-width="2.4"/>
<text transform="translate(247,744) rotate(-90)" font-size="21">7834</text>
<line x1="251" y1="687" x2="251" y2="743" stroke-width="2.4"/>
<text transform="translate(917,545) rotate(-90)" font-size="21">7835</text>
<line x1="923.4" y1="498.5" x2="923.4" y2="562.6" stroke-width="1.5"/>
<text transform="translate(917,690.5) rotate(-90)" font-size="21">7834</text>
<line x1="923.4" y1="619.7" x2="923.4" y2="688.7" stroke-width="1.5"/>
<text transform="translate(793.6,1139.8) rotate(-90)" font-size="21">7841</text>
<line x1="796.5" y1="1083.6" x2="796.5" y2="1139.3" stroke-width="2.4"/>
<text transform="translate(823.6,1139.8) rotate(-90)" font-size="21">7842</text>
<line x1="827.2" y1="1083.6" x2="827.2" y2="1139.3" stroke-width="2.4"/>
<text transform="translate(207,1301) rotate(-90)" font-size="21">9521</text>
<line x1="212.4" y1="1232" x2="212.4" y2="1305" stroke-width="2.4"/>
<line x1="212.4" y1="1232" x2="194" y2="1224" stroke-width="2"/>
<text transform="translate(260,1301) rotate(-90)" font-size="21">4321</text>
<line x1="266" y1="1206" x2="266" y2="1305" stroke-width="2.4"/>
<text transform="translate(299,1301) rotate(-90)" font-size="21">4322</text>
<line x1="305" y1="1206" x2="305" y2="1305" stroke-width="2.4"/>
<text transform="translate(890,1301.6) rotate(-90)" font-size="21">7510</text>
<line x1="896.4" y1="1253.6" x2="896.4" y2="1338.4" stroke-width="2.4"/>
<text transform="translate(766,1487.8) rotate(-90)" font-size="21">9015</text>
<line x1="772.3" y1="1439" x2="772.3" y2="1558" stroke-width="2.4"/>
<text transform="translate(800.6,1487.8) rotate(-90)" font-size="21">7831</text>
<line x1="806" y1="1439" x2="806" y2="1576" stroke-width="2.4"/>
<text transform="translate(836,1487.8) rotate(-90)" font-size="21">9015</text>
<line x1="841.6" y1="1439" x2="841.6" y2="1570" stroke-width="2.4"/>
<text transform="translate(66.2,2058.6) rotate(-90)" font-size="21">7838</text>
<line x1="70.7" y1="2001" x2="70.7" y2="2056" stroke-width="2.4"/>
<text transform="translate(97.3,2058.6) rotate(-90)" font-size="21">7837</text>
<line x1="102.4" y1="2001" x2="102.4" y2="2056" stroke-width="2.4"/>
<text transform="translate(168.1,2058.6) rotate(-90)" font-size="21">7836</text>
<line x1="173.3" y1="2001" x2="173.3" y2="2056" stroke-width="2.4"/>
<circle cx="217.3" cy="447.3" r="13.5" stroke-width="2" fill="#fff"/>
<text x="217.3" y="454.3" text-anchor="middle" font-size="22.5" class="cl">k</text>
<circle cx="282" cy="524.7" r="13.5" stroke-width="2" fill="#fff"/>
<text x="282" y="531.7" text-anchor="middle" font-size="22.5" class="cl">b</text>
<circle cx="275.3" cy="586" r="13.5" stroke-width="2" fill="#fff"/>
<text x="275.3" y="593" text-anchor="middle" font-size="22.5" class="cl">f</text>
<circle cx="161" cy="674" r="13.5" stroke-width="2" fill="#fff"/>
<text x="161" y="679.5" text-anchor="middle" font-size="22.5" class="cl">e</text>
<circle cx="192" cy="674" r="13.5" stroke-width="2" fill="#fff"/>
<text x="192" y="681" text-anchor="middle" font-size="22.5" class="cl">d</text>
<circle cx="221" cy="674" r="13.5" stroke-width="2" fill="#fff"/>
<text x="221" y="679.5" text-anchor="middle" font-size="22.5" class="cl">c</text>
<circle cx="251" cy="674" r="13.5" stroke-width="2" fill="#fff"/>
<text x="251" y="679.5" text-anchor="middle" font-size="22.5" class="cl">a</text>
<circle cx="922" cy="577" r="13.5" stroke-width="2" fill="#fff"/>
<text x="922" y="584" text-anchor="middle" font-size="22.5" class="cl">b</text>
<circle cx="922" cy="605.6" r="13.5" stroke-width="2" fill="#fff"/>
<text x="922" y="611.1" text-anchor="middle" font-size="22.5" class="cl">a</text>
<circle cx="796" cy="1070" r="13.5" stroke-width="2" fill="#fff"/>
<text x="796" y="1074" text-anchor="middle" font-size="22.5" class="cl">p</text>
<circle cx="827" cy="1070" r="13.5" stroke-width="2" fill="#fff"/>
<text x="827" y="1075.5" text-anchor="middle" font-size="22.5" class="cl">r</text>
<circle cx="168" cy="1240" r="13.5" stroke-width="2" fill="#fff"/>
<text x="168" y="1245" text-anchor="middle" font-size="22.5" class="cl">j</text>
<circle cx="400" cy="1222" r="13.5" stroke-width="2" fill="#fff"/>
<text x="400" y="1227.5" text-anchor="middle" font-size="22.5" class="cl">s</text>
<circle cx="681.3" cy="1214" r="13.5" stroke-width="2" fill="#fff"/>
<text x="681.3" y="1219.5" text-anchor="middle" font-size="22.5" class="cl">s</text>
<circle cx="551.8" cy="1328.8" r="13.5" stroke-width="2" fill="#fff"/>
<text x="551.8" y="1335.8" text-anchor="middle" font-size="22.5" class="cl">f</text>
<circle cx="550.8" cy="1359.6" r="13.5" stroke-width="2" fill="#fff"/>
<text x="550.8" y="1364.6" text-anchor="middle" font-size="22.5" class="cl">j</text>
<circle cx="668.4" cy="1454" r="13.5" stroke-width="2" fill="#fff"/>
<text x="668.4" y="1458" text-anchor="middle" font-size="22.5" class="cl">p</text>
<circle cx="705.5" cy="1438" r="13.5" stroke-width="2" fill="#fff"/>
<text x="705.5" y="1445" text-anchor="middle" font-size="22.5" class="cl">t</text>
<circle cx="641.6" cy="1606.8" r="13.5" stroke-width="2" fill="#fff"/>
<text x="641.6" y="1610.8" text-anchor="middle" font-size="22.5" class="cl">g</text>
<circle cx="586.8" cy="1668" r="13.5" stroke-width="2" fill="#fff"/>
<text x="586.8" y="1675" text-anchor="middle" font-size="22.5" class="cl">t</text>
<circle cx="613.6" cy="1801.7" r="13.5" stroke-width="2" fill="#fff"/>
<text x="613.6" y="1808.7" text-anchor="middle" font-size="22.5" class="cl">k</text>
<circle cx="788" cy="1883" r="13.5" stroke-width="2" fill="#fff"/>
<text x="788" y="1888.5" text-anchor="middle" font-size="22.5" class="cl">r</text>
<circle cx="342.2" cy="1576.5" r="13.5" stroke-width="2" fill="#fff"/>
<text x="342.2" y="1580.5" text-anchor="middle" font-size="22.5" class="cl">g</text>
<circle cx="71.3" cy="1986.7" r="13.5" stroke-width="2" fill="#fff"/>
<text x="71.3" y="1992.2" text-anchor="middle" font-size="22.5" class="cl">e</text>
<circle cx="101.5" cy="1987.3" r="13.5" stroke-width="2" fill="#fff"/>
<text x="101.5" y="1992.8" text-anchor="middle" font-size="22.5" class="cl">c</text>
<circle cx="173.3" cy="1986.7" r="13.5" stroke-width="2" fill="#fff"/>
<text x="173.3" y="1993.7" text-anchor="middle" font-size="22.5" class="cl">d</text>
</g>
</svg>
</body></html>
